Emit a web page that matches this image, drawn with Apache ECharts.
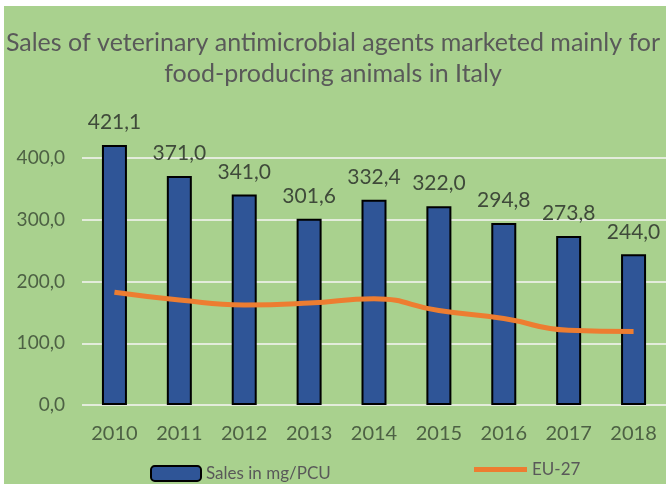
<!DOCTYPE html>
<html>
<head>
<meta charset="utf-8">
<script src="https://cdn.jsdelivr.net/npm/echarts@6/dist/echarts.min.js"></script>
<style>html,body{margin:0;padding:0;background:#fff}#c{width:666px;height:484px}</style>
</head>
<body>
<div id="c"></div>
<script>
var years = ['2010','2011','2012','2013','2014','2015','2016','2017','2018'];
var salesItaly = [421.1, 371.0, 341.0, 301.6, 332.4, 322.0, 294.8, 273.8, 244.0];
var eu27 = [182.5, 170, 162, 165, 172, 153, 140, 121, 119];
var yTicks = [0, 100, 200, 300, 400];

var FONT = 'Lato, "Open Sans", sans-serif';
var chart = echarts.init(document.getElementById('c'), null, {renderer: 'canvas'});
function fmt(v){ return v.toFixed(1).replace('.', ','); }
chart.setOption({
  animation: false,
  backgroundColor: '#ffffff',
  graphic: [{
    type: 'rect', z: -10, silent: true,
    shape: {x: 4, y: 6, width: 662, height: 478},
    style: {fill: '#a9d18e'}
  }],
  title: {
    text: 'Sales of veterinary antimicrobial agents marketed mainly for\nfood-producing animals in Italy',
    left: 'center', top: 22,
    textStyle: {fontFamily: FONT, fontSize: 25, fontWeight: 'normal', color: '#595959', lineHeight: 31}
  },
  grid: {left: 82, right: 0, top: 158, bottom: 79},
  legend: [{
    data: ['Sales in mg/PCU'],
    left: 145, top: 460,
    itemWidth: 50, itemHeight: 15, itemGap: 5,
    textStyle: {fontFamily: FONT, fontSize: 17, color: '#595959'}
  }, {
    data: [{name: 'EU-27', icon: 'rect'}],
    left: 469, top: 456,
    itemWidth: 53, itemHeight: 5, itemGap: 3,
    textStyle: {fontFamily: FONT, fontSize: 17, color: '#595959'}
  }],
  xAxis: {
    type: 'category', data: years,
    axisLine: {show: false}, axisTick: {show: false},
    axisLabel: {fontFamily: FONT, fontSize: 20, color: '#4d6144', margin: 19}
  },
  yAxis: {
    type: 'value', min: yTicks[0], max: yTicks[yTicks.length - 1], interval: 100,
    axisLine: {show: false}, axisTick: {show: false},
    axisLabel: {fontFamily: FONT, fontSize: 19, color: '#4d6144', margin: 17, formatter: fmt},
    splitLine: {lineStyle: {color: '#e3ecdb', width: 2}}
  },
  series: [{
    name: 'Sales in mg/PCU', type: 'bar', data: salesItaly, clip: false,
    barWidth: 25,
    itemStyle: {color: '#2f5597', borderColor: '#000000', borderWidth: 2},
    label: {show: true, position: 'top', distance: 12, fontFamily: FONT, fontSize: 21, color: '#3f4a3a',
      formatter: function(p){ return fmt(p.value); }}
  }, {
    name: 'EU-27', type: 'line', data: eu27, smooth: true, showSymbol: false, symbol: 'none',
    z: 5,
    lineStyle: {color: '#ed7d31', width: 5},
    itemStyle: {color: '#ed7d31'}
  }]
});
</script>
</body>
</html>
